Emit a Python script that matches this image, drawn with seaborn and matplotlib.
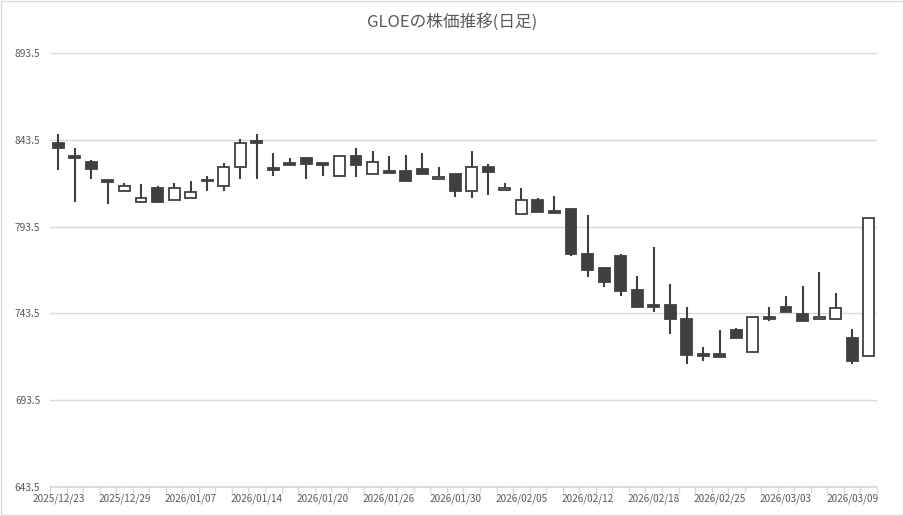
import numpy as np
import pandas as pd
import matplotlib.pyplot as plt
import matplotlib.patches as mpatches
import seaborn as sns

# =============================================================================
# Data
# =============================================================================
dates = ['2025/12/23', '2025/12/24', '2025/12/25', '2025/12/26', '2025/12/29',
         '2025/12/30', '2026/01/05', '2026/01/06', '2026/01/07', '2026/01/08',
         '2026/01/09', '2026/01/13', '2026/01/14', '2026/01/15', '2026/01/16',
         '2026/01/19', '2026/01/20', '2026/01/21', '2026/01/22', '2026/01/23',
         '2026/01/26', '2026/01/27', '2026/01/28', '2026/01/29', '2026/01/30',
         '2026/02/02', '2026/02/03', '2026/02/04', '2026/02/05', '2026/02/06',
         '2026/02/09', '2026/02/10', '2026/02/12', '2026/02/13', '2026/02/16',
         '2026/02/17', '2026/02/18', '2026/02/19', '2026/02/20', '2026/02/24',
         '2026/02/25', '2026/02/26', '2026/02/27', '2026/03/02', '2026/03/03',
         '2026/03/04', '2026/03/05', '2026/03/06', '2026/03/09', '2026/03/10']

opens = [841.5, 834.0, 830.6, 820.1, 814.1, 807.8, 815.9, 809.0, 810.1, 820.3,
         817.0, 828.0, 842.8, 827.1, 830.0, 833.1, 830.0, 822.8, 833.9, 823.9,
         825.3, 825.3, 826.8, 821.0, 823.9, 814.1, 828.0, 814.7, 800.7, 809.0,
         802.5, 803.8, 777.9, 769.8, 776.7, 756.8, 748.5, 748.6, 740.4, 720.0,
         720.3, 733.7, 721.5, 741.6, 747.4, 743.3, 740.4, 740.4, 729.5, 718.7]

highs = [847.0, 838.9, 832.0, 820.1, 818.9, 818.2, 817.0, 818.9, 819.9, 822.4,
         830.0, 844.1, 847.0, 836.0, 833.1, 833.1, 830.0, 833.9, 838.9, 837.3,
         834.1, 835.0, 836.0, 828.1, 823.9, 837.3, 829.3, 818.9, 815.9, 810.1,
         810.9, 803.8, 799.9, 769.8, 777.9, 764.8, 781.9, 760.6, 747.4, 724.3,
         733.7, 735.3, 741.6, 747.4, 753.7, 759.4, 767.5, 755.4, 734.7, 798.6]

lows = [826.2, 807.6, 821.0, 806.7, 814.1, 807.8, 807.8, 809.0, 810.1, 813.9,
        813.9, 821.0, 821.0, 822.8, 829.0, 820.8, 822.8, 822.8, 822.0, 823.9,
        824.3, 819.9, 823.9, 821.0, 810.5, 809.9, 811.6, 814.7, 800.7, 801.8,
        801.5, 776.5, 764.4, 758.6, 753.5, 747.4, 744.5, 731.8, 714.5, 716.3,
        718.6, 729.5, 721.5, 739.3, 744.5, 739.3, 740.4, 740.4, 714.5, 718.7]

closes = [838.9, 833.3, 826.6, 819.0, 817.0, 810.1, 807.8, 815.9, 813.2, 819.5,
          828.0, 841.8, 841.6, 826.2, 829.0, 829.7, 829.0, 833.9, 829.1, 830.8,
          824.3, 819.9, 823.9, 822.2, 813.9, 828.0, 825.1, 815.9, 809.0, 801.8,
          801.5, 777.9, 768.7, 761.7, 756.6, 747.4, 747.4, 740.4, 719.7, 719.0,
          718.6, 729.5, 741.6, 740.4, 744.5, 739.3, 741.6, 746.8, 716.3, 798.6]

y_ticks = [643.5, 693.5, 743.5, 793.5, 843.5, 893.5]

df = pd.DataFrame({'date': dates, 'open': opens, 'high': highs,
                   'low': lows, 'close': closes})
df['pos'] = np.arange(len(df))
df['up'] = df['close'] >= df['open']
df['bottom'] = df[['open', 'close']].min(axis=1)
df['height'] = (df['close'] - df['open']).abs().clip(lower=0.9)

# =============================================================================
# Style
# =============================================================================
sns.set_theme(style='white')
plt.rcParams['font.family'] = ['Noto Sans CJK JP', 'DejaVu Sans']

dark = '#404040'
grid_c = '#d9d9d9'
text_c = '#595959'

fig = plt.figure(figsize=(9.04, 5.16), dpi=100)
ax = fig.add_axes([50 / 904, 29 / 516, 827 / 904, 434 / 516])

# gridlines
for v in y_ticks:
    ax.axhline(v, color=grid_c, lw=1, zorder=0)

# wicks
ax.vlines(df['pos'], df['low'], df['high'], color=dark, lw=1.5, zorder=1)

# bodies: white for up days, dark for down days
up = df[df['up']]
down = df[~df['up']]
ax.bar(up['pos'], up['height'], bottom=up['bottom'], width=0.66,
       color='white', edgecolor=dark, linewidth=1.3, zorder=2)
ax.bar(down['pos'], down['height'], bottom=down['bottom'], width=0.66,
       color=dark, edgecolor=dark, linewidth=1.3, zorder=2)

ax.set_xlim(-0.5, len(df) - 0.5)
ax.set_ylim(643.5, 893.5)

# y axis
ax.set_yticks(y_ticks)
ax.set_yticklabels([f'{v:.1f}' for v in y_ticks], fontsize=7.3, color=text_c)
ax.tick_params(axis='y', length=0, pad=7)

# x axis: labels every 4 trading days, small ticks between categories
ax.set_xticks(df['pos'][::4])
ax.set_xticklabels(df['date'][::4], fontsize=7.2, color=text_c)
ax.set_xticks(np.arange(-0.5, len(df), 1), minor=True)
ax.tick_params(axis='x', which='major', length=0, pad=5)
ax.tick_params(axis='x', which='minor', length=4, color=grid_c, width=1,
               direction='out', bottom=True)

sns.despine(ax=ax, left=True, top=True, right=True)
ax.spines['bottom'].set_color(grid_c)
ax.grid(False)

fig.text(0.5, 1 - 22 / 516, 'GLOEの株価推移(日足)', ha='center', va='center',
         fontsize=12, color=text_c)

# chart border
fig.patches.append(mpatches.Rectangle((0.001, 0.001), 0.998, 0.997,
                                      transform=fig.transFigure, fill=False,
                                      edgecolor=grid_c, lw=1))

plt.savefig('out.png', dpi=100)
